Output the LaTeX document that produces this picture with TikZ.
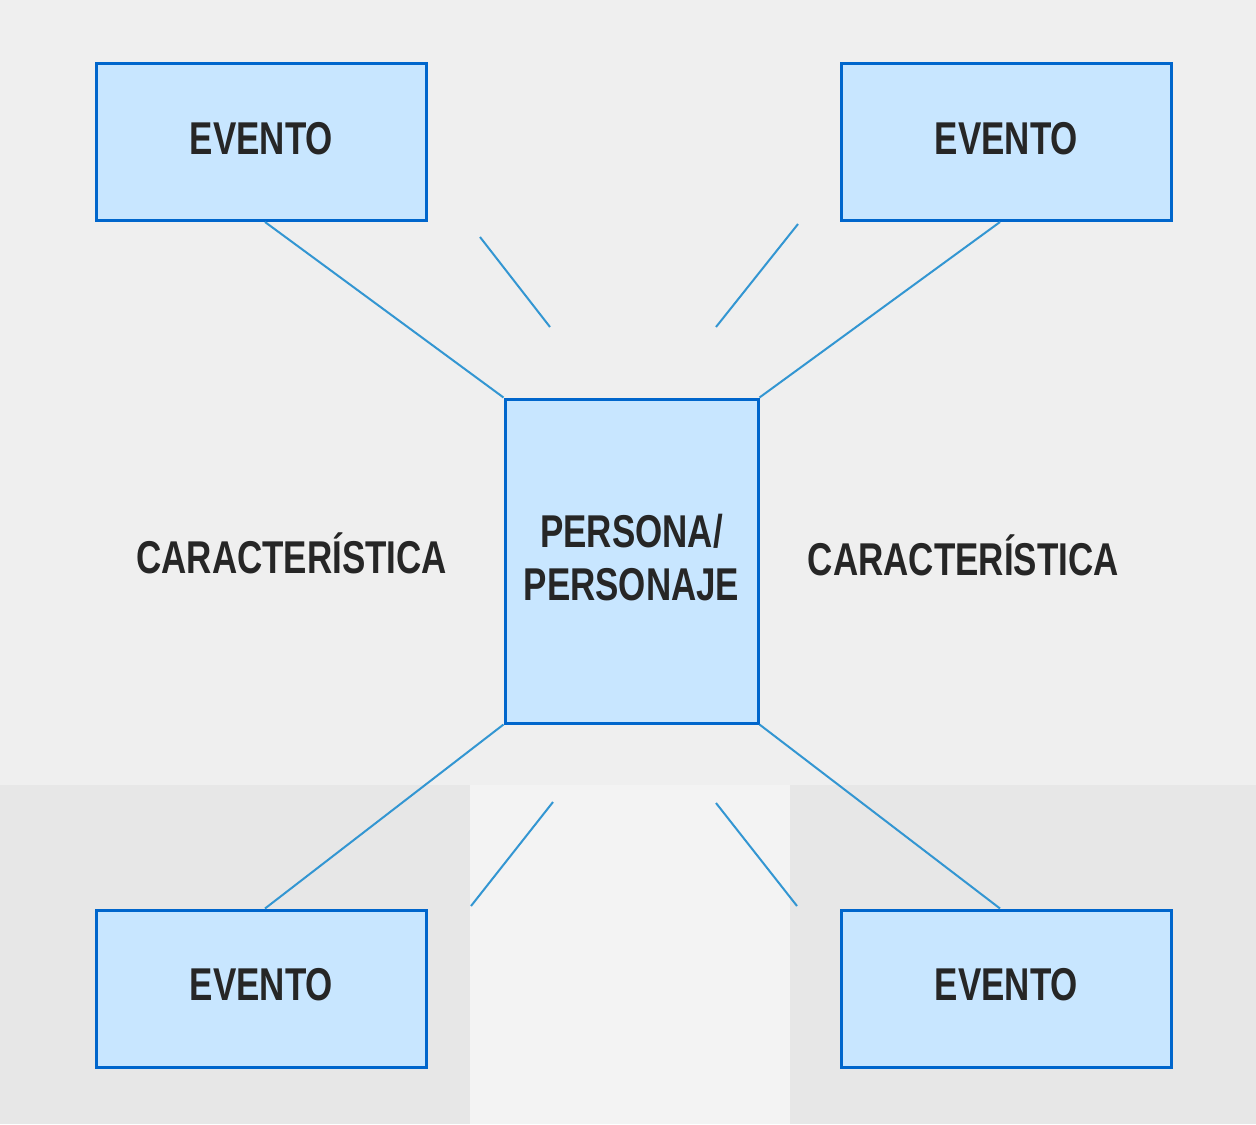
\documentclass[tikz,border=0pt]{standalone}
\usepackage{fontspec}
\setmainfont{Liberation Sans}
\newfontfamily\lblfont[FakeStretch=0.76]{Liberation Sans}
\usetikzlibrary{positioning}

\definecolor{boxfill}{RGB}{200,230,255}
\definecolor{boxline}{RGB}{0,102,204}
\definecolor{linkline}{RGB}{51,150,210}
\definecolor{bgtop}{RGB}{239,239,239}
\definecolor{bgbottom}{RGB}{231,231,231}
\definecolor{bglight}{RGB}{243,243,243}

\tikzset{
  txt/.style={font=\lblfont\bfseries\fontsize{23}{26.5}\selectfont, text=black!85},
  eventbox/.style={txt, draw=boxline, fill=boxfill, line width=1.5pt, minimum width=165pt, minimum height=78.5pt, inner sep=0pt, text depth=4pt},
  personbox/.style={txt, draw=boxline, fill=boxfill, line width=1.5pt, minimum width=126.5pt, minimum height=162pt, inner sep=0pt, align=center, text depth=4pt},
  carlabel/.style={txt, inner sep=0pt},
  link/.style={draw=linkline, line width=1pt}
}

\begin{document}
\begin{tikzpicture}[x=0.5pt, y=-0.5pt]
  \useasboundingbox (0,0) rectangle (1256,1124);
  \fill [bgtop] (0,0) rectangle (1256,1124);
  \fill [bgbottom] (0,785) rectangle (1256,1124);
  \fill [bglight] (470,785) rectangle (790,1124);

  \node (iPers) [personbox] at (631.5,561) {PERSONA/\\PERSONAJE};

  \node (iEvTL) [eventbox] at (261.5,142) {EVENTO};
  \node (iEvTR) [eventbox] at (1006.5,142) {EVENTO};
  \node (iEvBL) [eventbox] at (261.5,988.5) {EVENTO};
  \node (iEvBR) [eventbox] at (1006.5,988.5) {EVENTO};

  \node (iCarL) [carlabel, left=28pt of iPers.west, yshift=4pt] {CARACTERÍSTICA};
  \node (iCarR) [carlabel, right=24pt of iPers.east, yshift=3pt] {CARACTERÍSTICA};

  \draw [link] (iEvTL.south) ++(3.5,0) -- (iPers.north west);
  \draw [link] (iEvTR.south) ++(-6.5,0) -- (iPers.north east);
  \draw [link] (iEvBL.north) ++(3.5,0) -- (iPers.south west);
  \draw [link] (iEvBR.north) ++(-6.5,0) -- (iPers.south east);

  \coordinate (iUL1) at (480,237);
  \coordinate (iUL2) at (550,327);
  \coordinate (iUR1) at (798,224);
  \coordinate (iUR2) at (716,327);
  \coordinate (iDL1) at (553,802);
  \coordinate (iDL2) at (471,906);
  \coordinate (iDR1) at (716,803);
  \coordinate (iDR2) at (797,906);

  \draw [link] (iUL1) -- (iUL2);
  \draw [link] (iUR1) -- (iUR2);
  \draw [link] (iDL1) -- (iDL2);
  \draw [link] (iDR1) -- (iDR2);
\end{tikzpicture}
\end{document}
